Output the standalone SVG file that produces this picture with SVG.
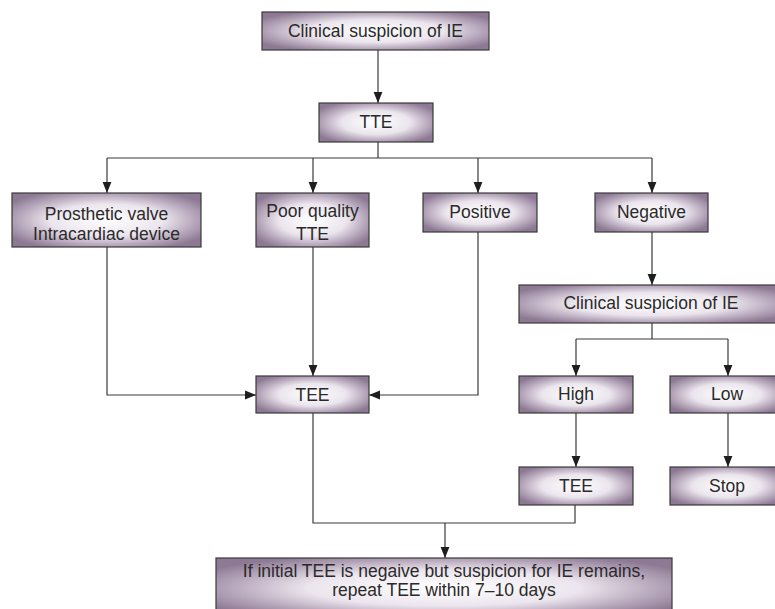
<svg xmlns="http://www.w3.org/2000/svg" width="775" height="609" viewBox="0 0 775 609">
<defs>
<radialGradient id="g" cx="50%" cy="50%" r="60%">
<stop offset="0" stop-color="#ffffff"/>
<stop offset="0.5" stop-color="#ebe5ed"/>
<stop offset="0.8" stop-color="#b2a2b7"/>
<stop offset="1" stop-color="#8d7993"/>
</radialGradient>
<marker id="ah" viewBox="0 0 10 10" refX="10" refY="5" markerWidth="11" markerHeight="11" markerUnits="userSpaceOnUse" orient="auto">
<path d="M0,1 L10,5 L0,9 Z" fill="#1e1e1e"/>
</marker>
</defs>
<style>
.box{fill:url(#g);stroke:#3a3a3a;stroke-width:1.2}
.t{font-family:"Liberation Sans",Arial,sans-serif;font-size:17.5px;fill:#2a2a2a;text-anchor:middle}
.c{fill:none;stroke:#3a3a3a;stroke-width:1.2}
.a{fill:none;stroke:#3a3a3a;stroke-width:1.2;marker-end:url(#ah)}
</style>
<rect width="775" height="609" fill="#fff"/>
<g id="connectors">
<path class="a" d="M378,50 V103"/>
<path class="c" d="M378,142 V158 M107,158 H652"/>
<path class="a" d="M107,158 V193"/>
<path class="a" d="M313,158 V193"/>
<path class="a" d="M478,158 V193"/>
<path class="a" d="M652,158 V193"/>
<path class="a" d="M107,247 V395 H256"/>
<path class="a" d="M313,247 V376"/>
<path class="a" d="M478,232 V395 H369"/>
<path class="a" d="M652,232 V285"/>
<path class="c" d="M652,323 V339 M576,339 H728"/>
<path class="a" d="M576,339 V376"/>
<path class="a" d="M728,339 V376"/>
<path class="a" d="M576,413 V467"/>
<path class="a" d="M728,413 V467"/>
<path class="c" d="M313,413 V523 H575 V505"/>
<path class="a" d="M445,523 V558"/>
</g>
<g id="n1"><rect class="box" x="262" y="12" width="227" height="38"/><text class="t" x="375.5" y="37">Clinical suspicion of IE</text></g>
<g id="n2"><rect class="box" x="319" y="103" width="114" height="39"/><text class="t" x="376" y="128">TTE</text></g>
<g id="n3"><rect class="box" x="12" y="193" width="189" height="54"/><text class="t" x="106.5" y="220">Prosthetic valve</text><text class="t" x="106.5" y="240">Intracardiac device</text></g>
<g id="n4"><rect class="box" x="256" y="193" width="113" height="54"/><text class="t" x="312.5" y="217">Poor quality</text><text class="t" x="312.5" y="240">TTE</text></g>
<g id="n5"><rect class="box" x="423" y="193" width="114" height="39"/><text class="t" x="480" y="218">Positive</text></g>
<g id="n6"><rect class="box" x="595" y="193" width="113" height="39"/><text class="t" x="651.5" y="218">Negative</text></g>
<g id="n7"><rect class="box" x="519" y="285" width="264" height="38"/><text class="t" x="651" y="309">Clinical suspicion of IE</text></g>
<g id="n8"><rect class="box" x="256" y="376" width="113" height="37"/><text class="t" x="312.5" y="401">TEE</text></g>
<g id="n9"><rect class="box" x="519" y="376" width="114" height="37"/><text class="t" x="576" y="400">High</text></g>
<g id="n10"><rect class="box" x="670" y="376" width="114" height="37"/><text class="t" x="727" y="400">Low</text></g>
<g id="n11"><rect class="box" x="519" y="467" width="114" height="38"/><text class="t" x="576" y="492">TEE</text></g>
<g id="n12"><rect class="box" x="670" y="467" width="114" height="38"/><text class="t" x="727" y="492">Stop</text></g>
<g id="n13"><rect class="box" x="216" y="558" width="456" height="60"/><text class="t" x="444" y="577">If initial TEE is negaive but suspicion for IE remains,</text><text class="t" x="444" y="596">repeat TEE within 7–10 days</text></g>
</svg>
